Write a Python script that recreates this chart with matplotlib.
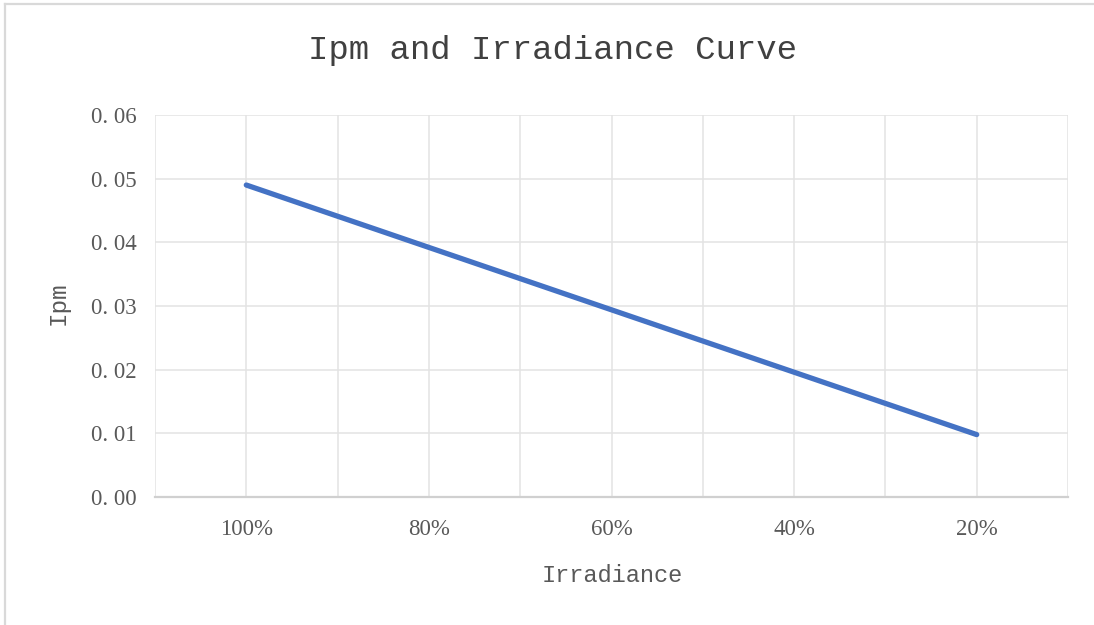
import matplotlib
matplotlib.use("Agg")
import matplotlib.pyplot as plt
from matplotlib.lines import Line2D
from matplotlib.ticker import FixedLocator, FuncFormatter, MultipleLocator

irradiance = [1.0, 0.9, 0.8, 0.7, 0.6, 0.5, 0.4, 0.3, 0.2]
ipm = [0.0490, 0.0441, 0.0392, 0.0343, 0.0294, 0.0245, 0.0196, 0.0147, 0.0098]
x_labels = [1.0, 0.8, 0.6, 0.4, 0.2]
y_ticks = [0.00, 0.01, 0.02, 0.03, 0.04, 0.05, 0.06]

W, H = 1094, 625
fig = plt.figure(figsize=(W / 100, H / 100), dpi=100)
fig.patch.set_facecolor("white")

# light chart-area border (left and top visible)
frame_color = "#d9d9d9"
fig.add_artist(Line2D([5 / W, 5 / W], [0, 1 - 4 / H], color=frame_color, lw=1.6, transform=fig.transFigure))
fig.add_artist(Line2D([5 / W, 1], [1 - 4 / H, 1 - 4 / H], color=frame_color, lw=1.6, transform=fig.transFigure))

ax = fig.add_axes([155 / W, (H - 497) / H, (1068 - 155) / W, (497 - 115) / H])
ax.plot(irradiance, ipm, color="#4472c4", lw=3.8, solid_capstyle="round")

ax.set_xlim(1.1, 0.1)
ax.set_ylim(0, 0.06)
ax.xaxis.set_major_locator(FixedLocator(x_labels))
ax.xaxis.set_minor_locator(MultipleLocator(0.1))
ax.xaxis.set_major_formatter(FuncFormatter(lambda v, p: f"{round(v * 100)}%"))
ax.yaxis.set_major_locator(FixedLocator(y_ticks))
ax.yaxis.set_major_formatter(FuncFormatter(lambda v, p: f"{v:.2f}".replace(".", ". ")))

ax.grid(True, which="both", axis="x", color="#e3e3e3", lw=1.1)
ax.grid(True, which="major", axis="y", color="#e3e3e3", lw=1.1)
ax.set_axisbelow(True)
for side in ["left", "right", "top"]:
    ax.spines[side].set_visible(False)
ax.spines["bottom"].set_color("#d0d0d0")
ax.spines["bottom"].set_linewidth(1.6)

ax.tick_params(axis="both", which="both", length=0)
ax.tick_params(axis="x", pad=16, labelsize=16.5, labelcolor="#595959")
ax.tick_params(axis="y", pad=13, labelsize=16.5, labelcolor="#595959")
for lab in ax.get_xticklabels() + ax.get_yticklabels():
    lab.set_fontfamily("Liberation Serif")

mono = "Liberation Mono"
fig.text(552 / W, 1 - 51 / H, "Ipm and Irradiance Curve", ha="center", va="center",
         fontsize=24.5, family=mono, color="#404040")
fig.text(612 / W, 1 - 575 / H, "Irradiance", ha="center", va="center",
         fontsize=17, family=mono, color="#595959")
fig.text(58 / W, 1 - 303 / H, "Ipm", ha="center", va="center", rotation=90,
         fontsize=17.5, family=mono, color="#595959")

fig.savefig("out.png", dpi=100)
